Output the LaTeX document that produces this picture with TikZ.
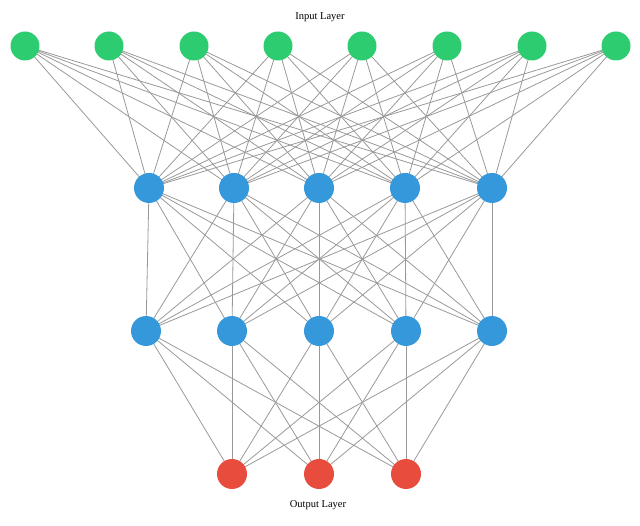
\documentclass[tikz,border=0pt]{standalone}
\usepackage{fontspec}
\setmainfont{Liberation Serif}
\usetikzlibrary{backgrounds}
\definecolor{ingreen}{HTML}{2ECC71}
\definecolor{hidblue}{HTML}{3498DB}
\definecolor{outred}{HTML}{E74C3C}
\definecolor{edgegray}{HTML}{999999}
\tikzset{
  neuron/.style={circle,inner sep=0pt,minimum size=29pt},
  innode/.style={neuron,fill=ingreen},
  hidnode/.style={neuron,fill=hidblue,minimum size=30pt},
  outnode/.style={neuron,fill=outred,minimum size=30pt},
  conn/.style={draw=edgegray,line width=0.8pt},
  lbl/.style={font=\fontsize{10.5}{12}\selectfont}
}
\begin{document}
\begin{tikzpicture}[x=1pt,y=-1pt]
\useasboundingbox (0,0) rectangle (640,526);
\node[lbl] (inlbl) at (320,17) {Input Layer};
\node[lbl] (outlbl) at (318,505) {Output Layer};
\foreach \x [count=\i] in {25,109,194,278,362,447,532,616}
  \node[innode] (i\i) at (\x,46) {};
\foreach \x [count=\i] in {149,234,319,405,492}
  \node[hidnode] (a\i) at (\x,188) {};
\foreach \x [count=\i] in {146,232,319,406,492}
  \node[hidnode] (b\i) at (\x,331) {};
\foreach \x [count=\i] in {232,319,406}
  \node[outnode] (o\i) at (\x,474) {};
\begin{scope}[on background layer]
\foreach \i in {1,...,8}
  \foreach \j in {1,...,5}
    \draw[conn] (i\i.center) -- (a\j.center);
\foreach \i in {1,...,5}
  \foreach \j in {1,...,5}
    \draw[conn] (a\i.center) -- (b\j.center);
\foreach \i in {1,...,5}
  \foreach \j in {1,...,3}
    \draw[conn] (b\i.center) -- (o\j.center);
\end{scope}
\end{tikzpicture}
\end{document}
